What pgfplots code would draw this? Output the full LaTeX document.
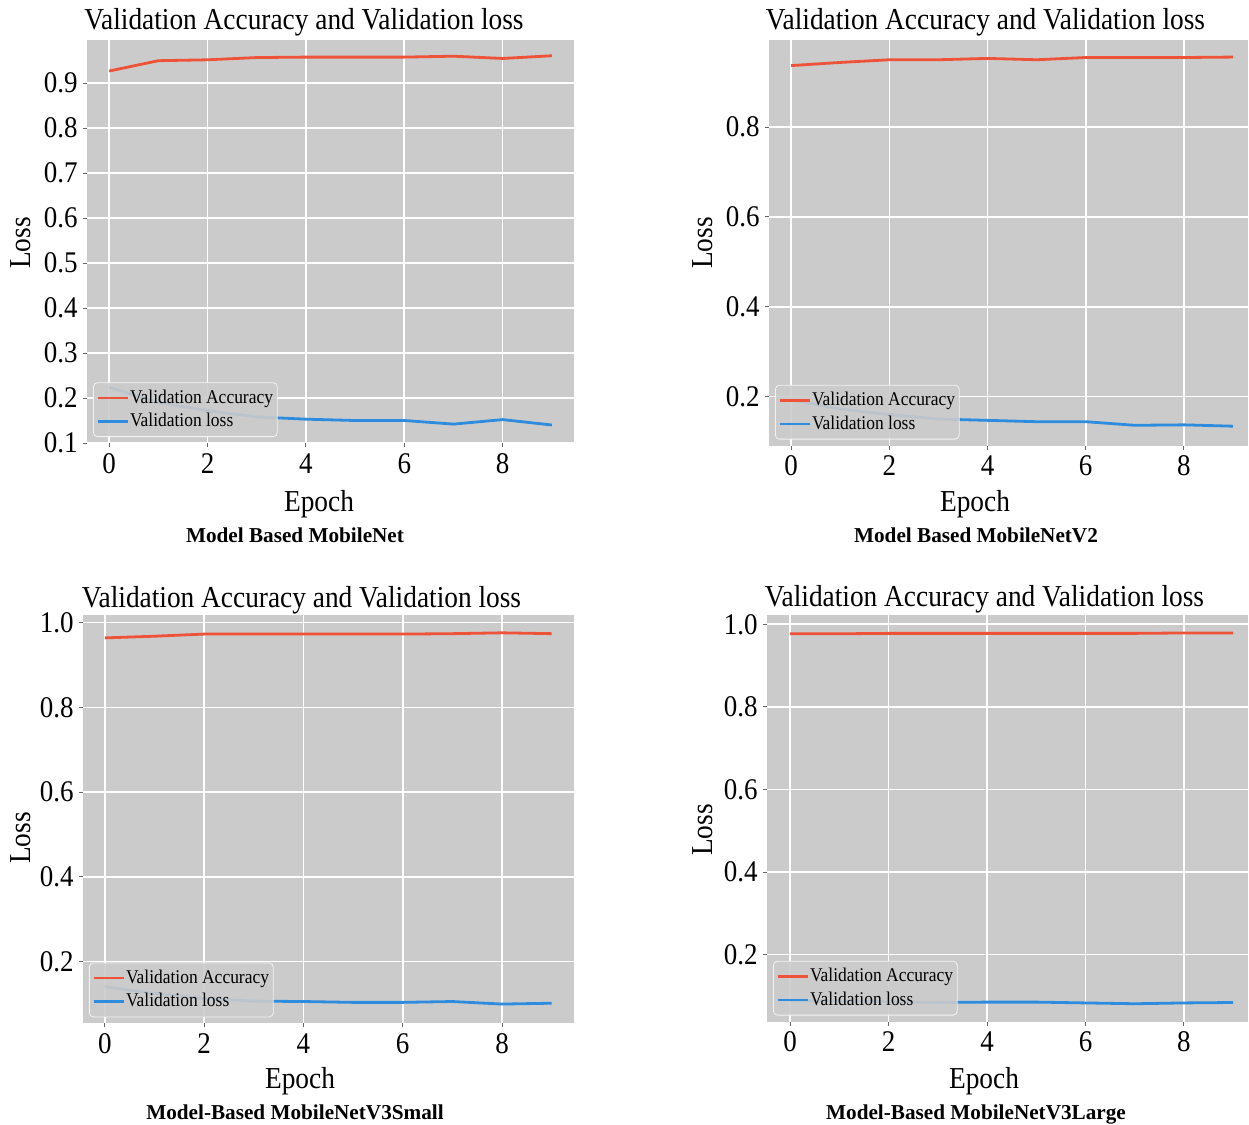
\documentclass[border=0pt]{standalone}
\usepackage{fontspec}
\setmainfont{Liberation Serif}[FakeStretch=0.9]
\newfontfamily\capfont{Liberation Serif}
\usepackage{pgfplots}
\pgfplotsset{compat=1.18}
\definecolor{bgc}{RGB}{203,203,203}
\definecolor{accc}{RGB}{238,82,56}
\definecolor{lossc}{RGB}{45,140,222}
\pgfplotsset{
 panel/.style={
  scale only axis, anchor=south west,
  axis background/.style={fill=bgc},
  axis line style={draw=none},
  grid=major, major grid style={white, line width=0.8pt},
  tick align=outside, xtick pos=bottom, ytick pos=left,
  major tick length=2pt,
  tick style={black!60, line width=0.5pt},
  xtick={0,2,4,6,8},
  /pgf/number format/assume math mode=true,
  ticklabel style={font=\fontsize{15}{18}\selectfont},
  xticklabel style={inner sep=3pt},
  yticklabel style={inner sep=2.5pt, /pgf/number format/fixed, /pgf/number format/fixed zerofill, /pgf/number format/precision=1},
  legend cell align=left,
  legend style={at={(0,0)}, anchor=south west, xshift=3pt, yshift=3pt, fill=bgc, fill opacity=0.9, text opacity=1, draw=white!75!bgc, rounded corners=2pt, font=\fontsize{9.7}{11.5}\selectfont, inner sep=1.5pt, row sep=-0.5pt, nodes={inner xsep=0.6pt}},
  legend image code/.code={\draw[#1, line width=1.2pt] (0pt,0pt) -- (15pt,0pt);},
  every axis plot/.append style={line width=1.4pt},
 }
}
\begin{document}
\begin{tikzpicture}
\useasboundingbox (0,0) rectangle (624.5pt,-562.5pt);
% Panel 1
\begin{axis}[panel, at={(43.5pt,-221.5pt)}, width=243.5pt, height=201.5pt,
  xmin=-0.45, xmax=9.45, ymin=0.1, ymax=0.996,
  ytick={0.1,0.2,0.3,0.4,0.5,0.6,0.7,0.8,0.9}]
\addplot[accc] coordinates {(0,0.927)(1,0.950)(2,0.952)(3,0.957)(4,0.958)(5,0.958)(6,0.958)(7,0.960)(8,0.955)(9,0.961)};
\addlegendentry{Validation Accuracy}
\addplot[lossc] coordinates {(0,0.224)(1,0.190)(2,0.172)(3,0.158)(4,0.153)(5,0.150)(6,0.150)(7,0.142)(8,0.152)(9,0.140)};
\addlegendentry{Validation loss}
\end{axis}
% Panel 2
\begin{axis}[panel, at={(384.5pt,-222.75pt)}, width=239.5pt, height=202.75pt,
  xmin=-0.45, xmax=9.306, ymin=0.091, ymax=0.994,
  ytick={0.2,0.4,0.6,0.8}]
\addplot[accc] coordinates {(0,0.937)(1,0.944)(2,0.950)(3,0.950)(4,0.953)(5,0.950)(6,0.955)(7,0.955)(8,0.955)(9,0.956)};
\addlegendentry{Validation Accuracy}
\addplot[lossc] coordinates {(0,0.193)(1,0.172)(2,0.160)(3,0.150)(4,0.147)(5,0.144)(6,0.144)(7,0.136)(8,0.137)(9,0.134)};
\addlegendentry{Validation loss}
\end{axis}
% Panel 3
\begin{axis}[panel, at={(41.5pt,-511.65pt)}, width=245.5pt, height=204.15pt,
  xmin=-0.44, xmax=9.45, ymin=0.0546, ymax=1.018,
  ytick={0.2,0.4,0.6,0.8,1.0}]
\addplot[accc] coordinates {(0,0.964)(1,0.968)(2,0.973)(3,0.973)(4,0.973)(5,0.973)(6,0.973)(7,0.974)(8,0.976)(9,0.974)};
\addlegendentry{Validation Accuracy}
\addplot[lossc] coordinates {(0,0.141)(1,0.125)(2,0.113)(3,0.107)(4,0.106)(5,0.104)(6,0.104)(7,0.106)(8,0.100)(9,0.102)};
\addlegendentry{Validation loss}
\end{axis}
% Panel 4
\begin{axis}[panel, at={(383.5pt,-510.75pt)}, width=240.5pt, height=203.25pt,
  xmin=-0.47, xmax=9.30, ymin=0.038, ymax=1.0225,
  ytick={0.2,0.4,0.6,0.8,1.0}]
\addplot[accc] coordinates {(0,0.977)(1,0.977)(2,0.978)(3,0.978)(4,0.978)(5,0.978)(6,0.978)(7,0.978)(8,0.979)(9,0.979)};
\addlegendentry{Validation Accuracy}
\addplot[lossc] coordinates {(0,0.089)(1,0.087)(2,0.086)(3,0.084)(4,0.085)(5,0.085)(6,0.083)(7,0.081)(8,0.083)(9,0.084)};
\addlegendentry{Validation loss}
\end{axis}
% Titles
\begin{scope}[every node/.style={inner sep=0pt, font=\fontsize{15.2}{18}\selectfont}]
\node[anchor=base] at (152pt,-14.65pt) {Validation Accuracy and Validation loss};
\node[anchor=base] at (492.75pt,-14.65pt) {Validation Accuracy and Validation loss};
\node[anchor=base] at (150.75pt,-303.5pt) {Validation Accuracy and Validation loss};
\node[anchor=base] at (492.25pt,-303pt) {Validation Accuracy and Validation loss};
\node[anchor=base] at (159.5pt,-255.5pt) {Epoch};
\node[anchor=base] at (487.5pt,-255.5pt) {Epoch};
\node[anchor=base] at (150pt,-544pt) {Epoch};
\node[anchor=base] at (492pt,-544pt) {Epoch};
\node[rotate=90] at (10.5pt,-121.5pt) {Loss};
\node[rotate=90] at (351.5pt,-121.5pt) {Loss};
\node[rotate=90] at (10.5pt,-419pt) {Loss};
\node[rotate=90] at (351.5pt,-415pt) {Loss};
\end{scope}
\begin{scope}[every node/.style={inner sep=0pt, font=\capfont\bfseries\fontsize{10.6}{12}\selectfont}]
\node[anchor=base] at (147.5pt,-271pt) {Model Based MobileNet};
\node[anchor=base] at (488pt,-271pt) {Model Based MobileNetV2};
\node[anchor=base] at (147.5pt,-559.5pt) {Model-Based MobileNetV3Small};
\node[anchor=base] at (488pt,-559.5pt) {Model-Based MobileNetV3Large};
\end{scope}
\end{tikzpicture}
\end{document}
